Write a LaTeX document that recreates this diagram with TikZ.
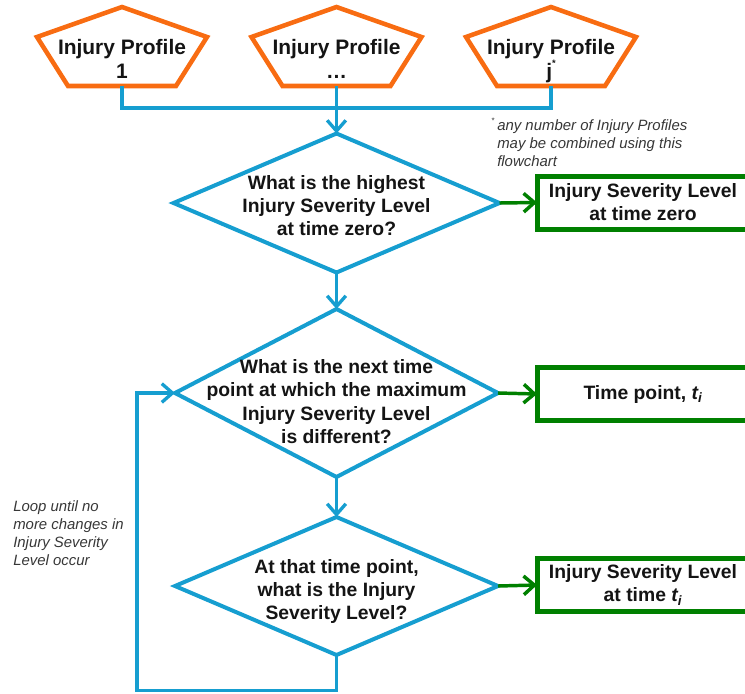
\documentclass[tikz,border=0pt]{standalone}
\usepackage{fontspec}
\setmainfont{Liberation Sans}
\usetikzlibrary{arrows.meta,shapes.geometric}
\definecolor{orng}{RGB}{248,108,18}
\definecolor{blu}{RGB}{22,158,208}
\definecolor{grn}{RGB}{0,128,0}
\definecolor{txt}{RGB}{20,20,20}
\definecolor{note}{RGB}{55,55,55}
\begin{document}
\begin{tikzpicture}[x=0.75pt,y=-0.75pt,
  every node/.style={text=txt},
  pent/.style={draw=orng,line width=3.4pt,line join=miter},
  pentext/.style={font=\bfseries\fontsize{15.7}{18}\selectfont,align=center,inner sep=0pt},
  dia/.style={diamond,draw=blu,line width=3pt,inner sep=0pt,outer sep=0pt},
  diatext/.style={font=\bfseries\fontsize{14.5}{17.3}\selectfont,align=center,inner sep=0pt},
  flow/.style={draw=blu,line width=2.5pt},
  barb/.style={-{Straight Barb[length=8pt,width=14pt]}},
  outbox/.style={draw=grn,line width=3.75pt,minimum width=159pt,minimum height=39.75pt,inner sep=0pt,outer sep=0pt,font=\bfseries\fontsize{14.5}{17.3}\selectfont,align=center},
  gflow/.style={draw=grn,line width=2.6pt},
  notetext/.style={font=\itshape\fontsize{11.2}{13.2}\selectfont,align=left,inner sep=0pt,text=note}
]
\useasboundingbox (0,0) rectangle (745,693);
\clip (0,0) rectangle (745,693);

% pentagons
\draw[pent] (122,7) -- (207,37) -- (176,86) -- (68,86) -- (37,37) -- cycle;
\draw[pent] (336.5,7) -- (421.5,37) -- (390.5,86) -- (282.5,86) -- (251.5,37) -- cycle;
\draw[pent] (551,7) -- (636,37) -- (605,86) -- (497,86) -- (466,37) -- cycle;
\node[pentext] (p1) at (122,61) {Injury Profile\\1\vphantom{j}};
\node[pentext] (p2) at (336.5,61) {Injury Profile\\\dots\vphantom{j}};
\node[pentext] (p3) at (551,61) {Injury Profile\\j\raisebox{0.55em}{\fontsize{7}{7}\selectfont *}};
\coordinate (p1b) at (122,86);
\coordinate (p2b) at (336.5,86);
\coordinate (p3b) at (551,86);
\coordinate (h1) at (122,108);
\coordinate (h3) at (551,108);

% note
\node[notetext,anchor=west] (nt) at (497,142) {\llap{\raisebox{0.5em}{\fontsize{6}{6}\selectfont\upshape *}\,}any number of Injury Profiles\\may be combined using this\\flowchart};

% diamonds
\node[dia,minimum width=244.5pt,minimum height=104.25pt] (d1) at (336.5,203) {};
\node[diatext] (t1) at (336.5,205.5) {What is the highest\\Injury Severity Level\\at time zero?};
\node[dia,minimum width=242.25pt,minimum height=126pt] (d2) at (336.5,393) {};
\node[diatext,font=\bfseries\fontsize{14.5}{17.5}\selectfont] (t2) at (336.5,401.5) {What is the next time\\point at which the maximum\\Injury Severity Level\\is different?};
\node[dia,minimum width=242.25pt,minimum height=103.5pt] (d3) at (336.5,586) {};
\node[diatext,font=\bfseries\fontsize{14.5}{17.5}\selectfont] (t3) at (336.5,591.5) {At that time point,\\what is the Injury\\Severity Level?};

% output boxes
\node[outbox] (b1) at (643,202.5) {Injury Severity Level\\at time zero};
\node[outbox] (b2) at (643,394) {Time point, {\itshape t\textsubscript{i}}};
\node[outbox] (b3) at (643,585) {Injury Severity Level\\at time {\itshape t\textsubscript{i}}};

% loop note
\node[notetext,anchor=west,font=\itshape\fontsize{11.2}{13.5}\selectfont] (lp) at (13,533.5) {Loop until no\\more changes in\\Injury Severity\\Level occur};

% connectors
\draw[flow] (p1b) -- (h1) -- (h3) -- (p3b);
\draw[flow,barb] (p2b) -- (d1.north);
\draw[flow,barb] (d1.south) -- (d2.north);
\draw[flow,barb] (d2.south) -- (d3.north);
\coordinate (loopL) at (137,690.5);
\draw[flow,barb] (d3.south) |- (loopL) |- (d2.west);
\draw[gflow,barb] (d1.east) -- (b1.west);
\draw[gflow,barb] (d2.east) -- (b2.west);
\draw[gflow,barb] (d3.east) -- (b3.west);
\end{tikzpicture}
\end{document}
